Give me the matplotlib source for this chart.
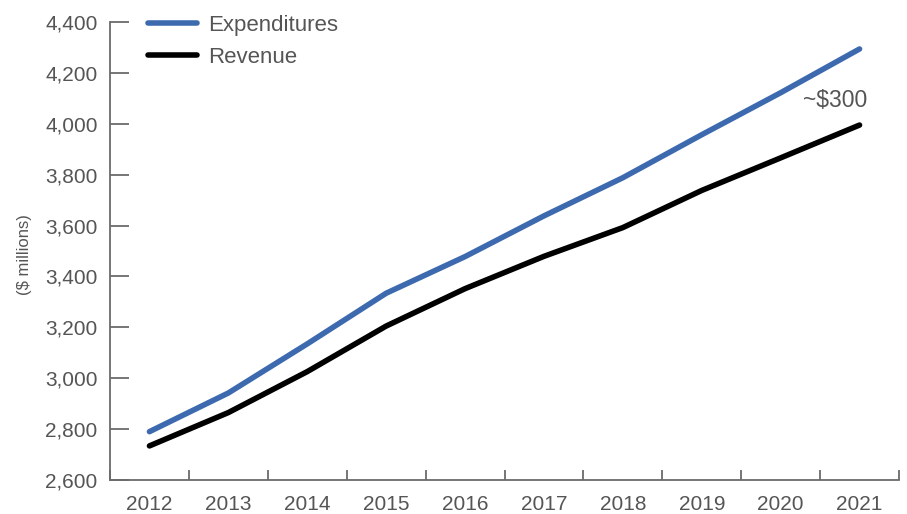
import numpy as np
import matplotlib
matplotlib.use("Agg")
import matplotlib.pyplot as plt

years = ["2012", "2013", "2014", "2015", "2016", "2017", "2018", "2019", "2020", "2021"]
expenditures = [2790, 2942, 3135, 3334, 3478, 3638, 3788, 3957, 4122, 4294]
revenue = [2734, 2865, 3026, 3205, 3352, 3479, 3592, 3738, 3866, 3995]
y_ticks = [2600, 2800, 3000, 3200, 3400, 3600, 3800, 4000, 4200, 4400]
gap_label = "~$300"

plt.rcParams["font.family"] = ["Liberation Sans", "DejaVu Sans"]
text_grey = "#555555"
axis_grey = "#6b6b6b"

fig = plt.figure(figsize=(9.07, 5.14), dpi=100)
ax = fig.add_axes([110 / 907, 34 / 514, 789 / 907, 458 / 514])

x = np.arange(len(years))
ax.plot(x, expenditures, color="#3d6aaf", lw=4.0, solid_capstyle="round",
        label="Expenditures")
ax.plot(x, revenue, color="black", lw=4.0, solid_capstyle="round",
        label="Revenue")

ax.set_xlim(-0.5, len(years) - 0.5)
ax.set_ylim(2600, 4400)

# ticks between categories, labels centred on them
ax.set_xticks(np.arange(len(years) + 1) - 0.5)
ax.set_xticklabels([])
ax.set_xticks(x, minor=True)
ax.set_xticklabels(years, minor=True)
ax.tick_params(axis="x", which="major", direction="in", length=7,
               width=1.3, color=axis_grey)
ax.tick_params(axis="x", which="minor", length=0, pad=11,
               labelsize=15, labelcolor=text_grey)

ax.set_yticks(y_ticks)
ax.set_yticklabels([f"{v:,}" for v in y_ticks])
ax.tick_params(axis="y", direction="in", length=14, width=1.3,
               color=axis_grey, pad=9, labelsize=15, labelcolor=text_grey)

for side in ["top", "right"]:
    ax.spines[side].set_visible(False)
for side in ["left", "bottom"]:
    ax.spines[side].set_color(axis_grey)
    ax.spines[side].set_linewidth(1.3)

ax.text(9.1, 4090, gap_label, ha="right", va="center", fontsize=16.5,
        color=text_grey)

fig.text(25 / 907, 1 - 255 / 514, "($ millions)", rotation=90,
         ha="center", va="center", fontsize=12, color=text_grey)

leg = ax.legend(loc="upper left", bbox_to_anchor=(0.048, 1.016),
                frameon=False, fontsize=16, handlelength=2.2,
                handletextpad=0.5, labelspacing=0.5, borderpad=0,
                borderaxespad=0)
for t in leg.get_texts():
    t.set_color(text_grey)

fig.savefig("out.png", dpi=100)
